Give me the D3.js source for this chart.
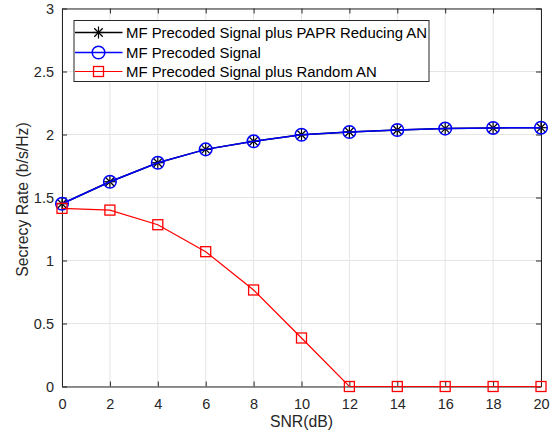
<!DOCTYPE html>
<html><head><meta charset="utf-8">
<script src="https://cdn.jsdelivr.net/npm/d3@7"></script>
<style>body{margin:0;background:#fff}svg{display:block}text{font-family:"Liberation Sans",Arial,sans-serif}</style>
</head><body><svg id="c" width="551" height="436"></svg>
<script>
const snr = [0,2,4,6,8,10,12,14,16,18,20];
const paprAN = [1.45,1.625,1.776,1.882,1.946,1.998,2.02,2.036,2.047,2.052,2.054];
const mfOnly = [1.45,1.625,1.776,1.882,1.946,1.998,2.02,2.036,2.047,2.052,2.054];
const randomAN = [1.414,1.40,1.284,1.07,0.766,0.385,0,0,0,0,0];
const xTicks = [0,2,4,6,8,10,12,14,16,18,20];
const yTicks = [0,0.5,1,1.5,2,2.5,3];
const legendLabels = ["MF Precoded Signal plus PAPR Reducing AN","MF Precoded Signal","MF Precoded Signal plus Random AN"];

const svg = d3.select("#c");
const L=62,R=541,T=8.5,B=386.5;
const FS=14.5, LFS=15.8, GFS=14.9;
const x = d3.scaleLinear().domain([0,20]).range([L,R]);
const y = d3.scaleLinear().domain([0,3]).range([B,T]);
const ax="#262626";
// grid
const g = svg.append("g");
g.selectAll(".gx").data(xTicks).enter().append("line").attr("x1",d=>x(d)).attr("x2",d=>x(d)).attr("y1",T).attr("y2",B).attr("stroke","#e5e5e5");
g.selectAll(".gy").data(yTicks).enter().append("line").attr("y1",d=>y(d)).attr("y2",d=>y(d)).attr("x1",L).attr("x2",R).attr("stroke","#e5e5e5");
// axes
const fmt = d=>String(d);
const xa = svg.append("g").attr("transform",`translate(0,${B})`).call(d3.axisBottom(x).tickValues(xTicks).tickFormat(fmt).tickSizeInner(-5).tickSizeOuter(0).tickPadding(12));
const xt = svg.append("g").attr("transform",`translate(0,${T})`).call(d3.axisTop(x).tickValues(xTicks).tickFormat("").tickSizeInner(-5).tickSizeOuter(0));
const ya = svg.append("g").attr("transform",`translate(${L},0)`).call(d3.axisLeft(y).tickValues(yTicks).tickFormat(fmt).tickSizeInner(-5).tickSizeOuter(0).tickPadding(8));
const yr = svg.append("g").attr("transform",`translate(${R},0)`).call(d3.axisRight(y).tickValues(yTicks).tickFormat("").tickSizeInner(-5).tickSizeOuter(0));
[xa,xt,ya,yr].forEach(a=>{a.select(".domain").attr("stroke",ax).attr("stroke-width",1);a.selectAll(".tick line").attr("stroke",ax);a.selectAll("text").attr("fill",ax).attr("font-size",FS).attr("font-family","Liberation Sans, Arial, sans-serif");});
svg.append("text").attr("x",(L+R)/2).attr("y",426.5).attr("text-anchor","middle").attr("font-size",LFS).attr("fill",ax).text("SNR(dB)");
svg.append("text").attr("transform",`translate(27.5,${(T+B)/2+2}) rotate(-90)`).attr("text-anchor","middle").attr("font-size",LFS).attr("fill",ax).text("Secrecy Rate (b/s/Hz)");

const line = d3.line().x(d=>x(d[0])).y(d=>y(d[1]));
function star(sel,cx,cy,r,col){
  const a=[0,Math.PI/4,Math.PI/2,3*Math.PI/4];
  a.forEach(t=>sel.append("line").attr("x1",cx-r*Math.cos(t)).attr("y1",cy-r*Math.sin(t)).attr("x2",cx+r*Math.cos(t)).attr("y2",cy+r*Math.sin(t)).attr("stroke",col).attr("stroke-width",1.2));
}
function series(vals,col,lw,marker){
  const pts = snr.map((s,i)=>[s,vals[i]]);
  const gg = svg.append("g");
  gg.append("path").attr("d",line(pts)).attr("fill","none").attr("stroke",col).attr("stroke-width",lw);
  pts.forEach(p=>drawMarker(gg,marker,x(p[0]),y(p[1]),col));
}
function drawMarker(gg,m,cx,cy,col){
  if(m==="star") star(gg,cx,cy,6,col);
  else if(m==="circle") gg.append("circle").attr("cx",cx).attr("cy",cy).attr("r",6.3).attr("fill","none").attr("stroke",col).attr("stroke-width",1.5);
  else gg.append("rect").attr("x",cx-5).attr("y",cy-5).attr("width",10).attr("height",10).attr("fill","none").attr("stroke",col).attr("stroke-width",1.3);
}
series(paprAN,"#000",1.5,"star");
series(mfOnly,"#0000ff",1.5,"circle");
series(randomAN,"#ff0000",1.2,"square");

// legend
const lg = svg.append("g");
lg.append("rect").attr("x",74).attr("y",20.5).attr("width",355).attr("height",61).attr("fill","#fff").attr("stroke",ax).attr("stroke-width",1);
const cols=["#000","#0000ff","#ff0000"], marks=["star","circle","square"], ys=[32.5,52.5,71.5], lws=[1.5,1.5,1.2];
legendLabels.forEach((t,i)=>{
  lg.append("line").attr("x1",75).attr("x2",122.5).attr("y1",ys[i]).attr("y2",ys[i]).attr("stroke",cols[i]).attr("stroke-width",lws[i]);
  drawMarker(lg,marks[i],98.5,ys[i],cols[i]);
  lg.append("text").attr("x",126).attr("y",ys[i]+5.2).attr("font-size",GFS).attr("fill","#000").text(t);
});
</script></body></html>
